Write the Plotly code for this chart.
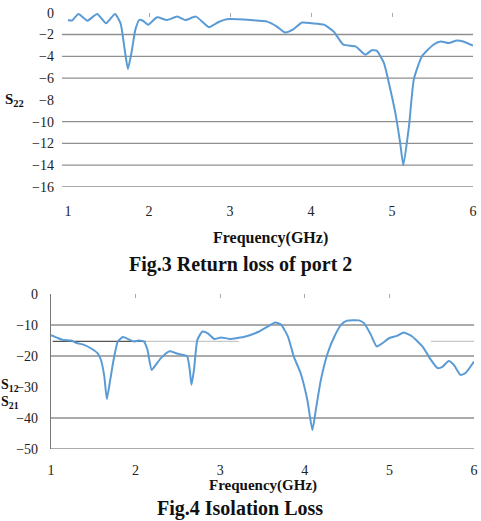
import plotly.graph_objects as go

# ---- Fig.3 data: S22 (dB) vs frequency (GHz)
f22 = [1.00, 1.05, 1.13, 1.24, 1.36, 1.47, 1.58, 1.65, 1.70, 1.74, 1.79, 1.83, 1.88, 1.92,
       1.99, 2.10, 2.22, 2.35, 2.45, 2.58, 2.74, 2.86, 2.96, 3.25, 3.46, 3.58, 3.68, 3.77,
       3.89, 4.01, 4.16, 4.28, 4.40, 4.55, 4.67, 4.75, 4.81, 4.90, 4.96, 5.04, 5.10, 5.14,
       5.21, 5.27, 5.37, 5.51, 5.60, 5.70, 5.80, 5.88, 6.00]
s22 = [-0.67, -0.72, -0.12, -0.73, -0.12, -0.97, -0.12, -1.0, -3.4, -5.15, -3.4, -1.6, -0.67, -0.72,
       -1.1, -0.42, -0.67, -0.36, -0.67, -0.36, -1.33, -0.85, -0.6, -0.67, -0.82, -1.27, -1.82, -1.58,
       -0.9, -0.97, -1.1, -1.73, -2.94, -3.09, -3.85, -3.45, -3.48, -4.6, -6.4, -9.15, -11.9, -14.0,
       -10.4, -6.1, -4.0, -2.94, -2.64, -2.79, -2.55, -2.64, -3.03]

# ---- Fig.4 data: S12/S21 (dB) vs frequency (GHz)
f12 = [1.00, 1.08, 1.14, 1.24, 1.30, 1.39, 1.47, 1.55, 1.59, 1.63, 1.66, 1.70, 1.74, 1.79,
       1.85, 1.93, 1.98, 2.04, 2.10, 2.14, 2.19, 2.24, 2.30, 2.40, 2.48, 2.55, 2.61, 2.64,
       2.66, 2.69, 2.73, 2.79, 2.85, 2.93, 3.01, 3.11, 3.30, 3.46, 3.56, 3.65, 3.72, 3.80,
       3.87, 3.95, 4.03, 4.09, 4.13, 4.19, 4.27, 4.35, 4.43, 4.50, 4.64, 4.70, 4.78, 4.85,
       4.92, 5.00, 5.09, 5.17, 5.27, 5.39, 5.49, 5.57, 5.63, 5.70, 5.76, 5.84, 5.90, 6.00]
s12 = [-13.3, -14.2, -14.8, -15.0, -15.8, -16.4, -17.5, -19.1, -21.2, -26.6, -33.9, -27.7, -21.2, -15.3,
       -13.9, -14.8, -15.3, -15.0, -15.4, -18.0, -24.5, -22.8, -20.7, -18.5, -19.1, -19.6, -20.1, -24.5,
       -29.3, -24.5, -14.8, -12.1, -12.6, -14.5, -14.0, -14.5, -13.7, -12.1, -10.5, -9.2, -9.9, -13.7,
       -20.2, -25.5, -34.2, -43.9, -37.4, -27.7, -19.1, -13.7, -9.9, -8.6, -8.5, -9.4, -13.1, -16.9,
       -15.8, -14.2, -13.5, -12.4, -13.7, -16.9, -21.2, -23.9, -23.4, -21.6, -22.8, -26.1, -25.5, -21.8]

x_ticks = [1, 2, 3, 4, 5, 6]
y22_ticks = [0, -2, -4, -6, -8, -10, -12, -14, -16]
y22_grid = [-2, -4, -6, -10, -12, -14, -16]
y12_ticks = [0, -10, -20, -30, -40, -50]
y12_grid = [-10, -20, -40, -50]

W, H = 481, 521
LINE = "#5b9bd5"
GRID = "#8f8f8f"
FONT = "Liberation Serif"

def px(x):
    return x / W

def py(y):
    return 1 - y / H

fig = go.Figure()
fig.add_trace(go.Scatter(x=f22, y=s22, mode="lines", line=dict(color=LINE, width=2, shape="spline", smoothing=0.5),
                         xaxis="x", yaxis="y", showlegend=False))
fig.add_trace(go.Scatter(x=f12, y=s12, mode="lines", line=dict(color=LINE, width=2, shape="spline", smoothing=0.5),
                         xaxis="x2", yaxis="y2", showlegend=False))

tickfont = dict(family=FONT, size=14, color="#222")

shapes = []
for g in y22_grid:
    shapes.append(dict(type="line", xref="x domain", yref="y", x0=0, x1=1, y0=g, y1=g,
                       line=dict(color=GRID, width=1.3), layer="below"))
for g in y12_grid:
    shapes.append(dict(type="line", xref="x2 domain", yref="y2", x0=0, x1=1, y0=g, y1=g,
                       line=dict(color=GRID, width=1.3), layer="below"))
# stray horizontal lines in the isolation chart
shapes.append(dict(type="line", xref="x2", yref="y2", x0=1.02, x1=2.12, y0=-15.3, y1=-15.3,
                   line=dict(color="#555", width=1.3), layer="below"))
shapes.append(dict(type="line", xref="x2", yref="y2", x0=2.12, x1=3.22, y0=-15.3, y1=-15.3,
                   line=dict(color="#c8c8c8", width=1.2), layer="below"))
shapes.append(dict(type="line", xref="x2", yref="y2", x0=5.49, x1=6.06, y0=-15.3, y1=-15.3,
                   line=dict(color="#c8c8c8", width=1.2), layer="below"))

fig.update_layout(
    width=W, height=H, autosize=False,
    margin=dict(l=0, r=0, t=0, b=0),
    paper_bgcolor="white", plot_bgcolor="white",
    shapes=shapes,
    xaxis=dict(domain=[px(62), px(473)], range=[0.926, 6], anchor="y",
               tickvals=x_ticks, ticks="", showgrid=False, zeroline=False, showline=False,
               tickfont=tickfont, ticklabelstandoff=14, automargin=False),
    yaxis=dict(domain=[py(187), py(12.7)], range=[-16, 0], anchor="x",
               tickvals=y22_ticks, ticks="", showgrid=False, zeroline=False, showline=False,
               tickfont=tickfont, ticklabelstandoff=7, automargin=False),
    xaxis3=dict(overlaying="x", side="top", range=[0.926, 6], anchor="y",
                tickvals=[2, 3, 4, 5, 6], ticks="inside", ticklen=4, tickcolor="#aaa",
                showticklabels=False, showgrid=False, zeroline=False, showline=False),
    xaxis2=dict(domain=[px(51), px(474)], range=[1, 6], anchor="y2",
                tickvals=x_ticks, ticks="", showgrid=False, zeroline=False, showline=False,
                tickfont=tickfont, ticklabelstandoff=11, automargin=False),
    yaxis2=dict(domain=[py(449), py(294)], range=[-50, 0], anchor="x2",
                tickvals=y12_ticks, ticks="", showgrid=False, zeroline=False,
                showline=True, linecolor="#777", linewidth=1.3,
                tickfont=tickfont, ticklabelstandoff=9, automargin=False),
    xaxis4=dict(overlaying="x2", side="top", range=[1, 6], anchor="y2",
                tickvals=[2, 3, 4, 5], ticks="inside", ticklen=4, tickcolor="#aaa",
                showticklabels=False, showgrid=False, zeroline=False, showline=False),
)

# dummy traces so the overlay axes get drawn
fig.add_trace(go.Scatter(x=[None], y=[None], xaxis="x3", yaxis="y", showlegend=False))
fig.add_trace(go.Scatter(x=[None], y=[None], xaxis="x4", yaxis="y2", showlegend=False))

def ann(text, x, y, size):
    fig.add_annotation(text=text, x=px(x), y=py(y), xref="paper", yref="paper",
                       xanchor="center", yanchor="middle", showarrow=False,
                       font=dict(family=FONT, size=size, color="#111"))

ann("<b>S<sub>22</sub></b>", 14, 100, 15)
ann("<b>Frequency(GHz)</b>", 270, 238, 16)
ann("<b>Fig.3 Return loss of port 2</b>", 240, 264, 20)
ann("<b>S<sub>12</sub></b>", 10, 385, 14)
ann("<b>S<sub>21</sub></b>", 10, 402, 14)
ann("<b>Frequency(GHz)</b>", 263, 485, 15)
ann("<b>Fig.4 Isolation Loss</b>", 240, 508, 20)

fig.write_html("out.html")
